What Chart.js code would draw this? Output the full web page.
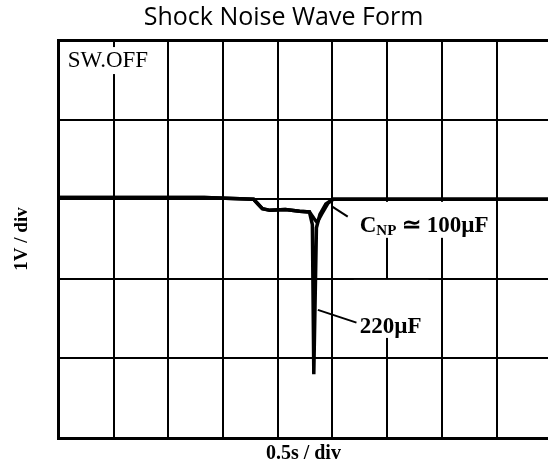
<!DOCTYPE html>
<html>
<head>
<meta charset="utf-8">
<script src="https://cdn.jsdelivr.net/npm/chart.js@4.4.1/dist/chart.umd.min.js"></script>
<style>
    html, body { margin: 0; padding: 0; background: #fff; overflow: hidden; }
    #wrap { width: 548px; height: 466px; }
</style>
</head>
<body>
<div id="wrap"><canvas id="waveChart"></canvas></div>
<script>
// Time in seconds (0.5 s / div), voltage in volts (1 V / div)
const t220 = [0, 0.83, 1.33, 1.78, 1.82, 1.86, 1.93, 2.07, 2.20, 2.29, 2.317, 2.33, 2.354, 2.386, 2.44, 2.505, 3.12, 4.47];
const v220 = [3.02, 3.02, 3.02, 3.00, 2.94, 2.88, 2.86, 2.87, 2.85, 2.84, 2.68, 0.80, 2.64, 2.81, 2.94, 3.00, 3.00, 3.00];

const t100 = [0, 0.83, 1.33, 1.78, 1.82, 1.86, 1.93, 2.07, 2.20, 2.29, 2.33, 2.36, 2.40, 2.46, 2.51, 3.12, 4.47];
const v100 = [3.02, 3.02, 3.02, 3.00, 2.94, 2.88, 2.86, 2.87, 2.85, 2.84, 2.76, 2.71, 2.81, 2.95, 3.00, 3.00, 3.00];

// Leader lines from the traces to their labels
const lead100T = [2.495, 2.64];
const lead100V = [2.91, 2.78];
const lead220T = [2.367, 2.72];
const lead220V = [1.61, 1.45];

const xMax = 4.47;   // right edge of the picture (grid continues past it)
const yMax = 5;

const toPoints = (xs, ys) => xs.map((x, i) => ({ x: x, y: ys[i] }));

// Text notes inside the plot (anchored in data units)
const notes = [
    { x: 0.082, y: 4.66, parts: [{ text: 'SW.OFF', font: '23px "Liberation Serif"' }], box: [4, 6, 20, 7] },
    { x: 2.75, y: 2.59, parts: [
        { text: 'C', font: 'bold 23px "Liberation Serif"' },
        { text: 'NP', font: 'bold 15px "Liberation Serif"', dy: 3 },
        { text: ' \u2243 100\u00B5F', font: 'bold 23px "Liberation Serif"' }
    ], box: [6, 4, 30, 6] },
    { x: 2.75, y: 1.32, parts: [{ text: '220\u00B5F', font: 'bold 23px "Liberation Serif"' }], box: [6, 7, 53, 5] }
];

function noteWidth(ctx, note) {
    let w = 0;
    note.parts.forEach(p => { ctx.font = p.font; w += ctx.measureText(p.text).width; });
    return w;
}

const notesPlugin = {
    id: 'notes',
    beforeDatasetsDraw(chart) {
        const { ctx, scales: { x, y } } = chart;
        ctx.save();
        ctx.fillStyle = '#fff';
        notes.forEach(n => {
            const px = x.getPixelForValue(n.x);
            const py = y.getPixelForValue(n.y);
            const w = noteWidth(ctx, n);
            ctx.fillRect(px - n.box[0], py - n.box[2], w + n.box[0] + n.box[1], n.box[2] + n.box[3]);
        });
        ctx.restore();
    },
    afterDatasetsDraw(chart) {
        const { ctx, scales: { x, y } } = chart;
        ctx.save();
        ctx.fillStyle = '#000';
        ctx.textBaseline = 'alphabetic';
        notes.forEach(n => {
            let px = x.getPixelForValue(n.x);
            const py = y.getPixelForValue(n.y);
            n.parts.forEach(p => {
                ctx.font = p.font;
                ctx.fillText(p.text, px, py + (p.dy || 0));
                px += ctx.measureText(p.text).width;
            });
        });
        ctx.restore();
    }
};

const edgeWidth = (ctx, max) => (ctx.tick && (ctx.tick.value === 0 || ctx.tick.value === max)) ? 3 : 2;

const lineStyle = { borderColor: '#000', pointRadius: 0, fill: false, tension: 0 };

new Chart(document.getElementById('waveChart'), {
    type: 'line',
    data: {
        datasets: [
            { label: '100uF', data: toPoints(t100, v100), borderWidth: 3.5, ...lineStyle },
            { label: '220uF', data: toPoints(t220, v220), borderWidth: 3.5, ...lineStyle },
            { label: 'lead100', data: toPoints(lead100T, lead100V), borderWidth: 2, ...lineStyle },
            { label: 'lead220', data: toPoints(lead220T, lead220V), borderWidth: 2, ...lineStyle }
        ]
    },
    options: {
        responsive: true,
        maintainAspectRatio: false,
        animation: false,
        // negative right padding only shifts the title box to the right
        layout: { padding: { left: 11, right: -8, top: 0, bottom: 0 } },
        plugins: {
            legend: { display: false },
            tooltip: { enabled: false },
            title: {
                display: true,
                text: 'Shock Noise Wave Form',
                color: '#000',
                font: { family: 'Open Sans', size: 25, weight: 'normal' },
                padding: { top: 3, bottom: 7 }
            }
        },
        scales: {
            x: {
                type: 'linear',
                min: 0,
                max: xMax,
                ticks: { display: false, stepSize: 0.5 },
                afterBuildTicks: scale => {
                    scale.ticks = scale.ticks.filter(t => Math.abs(t.value * 2 - Math.round(t.value * 2)) < 1e-6);
                },
                grid: { color: '#000', lineWidth: ctx => edgeWidth(ctx, -1), drawTicks: false },
                border: { display: true, color: '#000', width: 3 },
                title: {
                    display: true,
                    text: '0.5s / div',
                    color: '#000',
                    font: { family: 'Liberation Serif', size: 20, weight: 'bold' },
                    padding: { top: 4, bottom: 0 }
                }
            },
            y: {
                min: 0,
                max: yMax,
                ticks: { display: false, stepSize: 1 },
                grid: { color: '#000', lineWidth: ctx => edgeWidth(ctx, yMax), drawTicks: false },
                border: { display: true, color: '#000', width: 3 },
                title: {
                    display: true,
                    text: '1V / div',
                    color: '#000',
                    font: { family: 'Liberation Serif', size: 19, weight: 'bold' },
                    padding: { top: 0, bottom: 25 }
                }
            }
        }
    },
    plugins: [notesPlugin]
});
</script>
</body>
</html>
